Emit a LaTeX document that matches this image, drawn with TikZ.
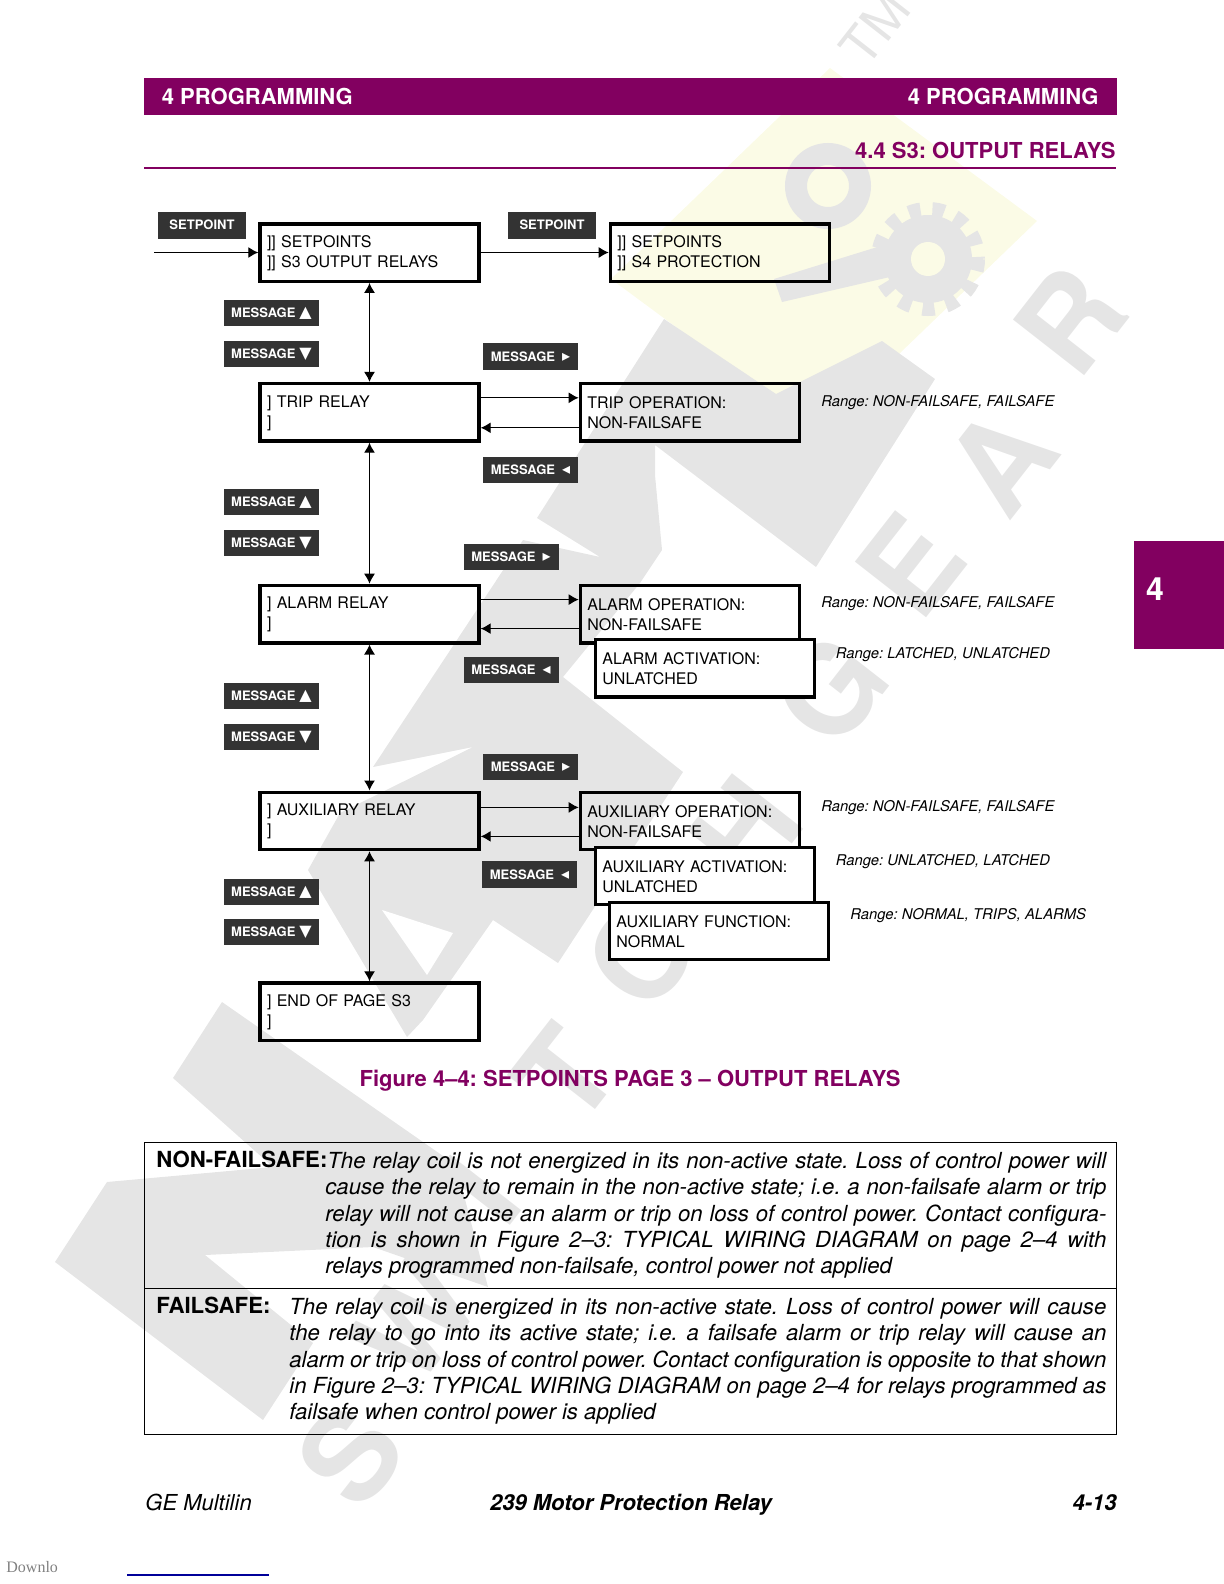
\documentclass[tikz,border=0pt]{standalone}
\usepackage{fontspec}
\setmainfont{TeX Gyre Heros}
\newfontfamily\symfont{DejaVu Sans}
\newfontfamily\downfont{Liberation Serif}
\usetikzlibrary{arrows.meta, positioning}

\definecolor{gepurple}{HTML}{820060}
\definecolor{keygray}{HTML}{333333}
\definecolor{wmgray}{HTML}{E5E5E5}
\definecolor{wmyellow}{HTML}{FBFBE6}

\newcommand{\keysym}{\symfont\fontsize{8}{8}\selectfont}
\newcommand{\msgup}{MESSAGE\hspace{2pt}{\keysym ▲}}
\newcommand{\msgdown}{MESSAGE\hspace{2pt}{\keysym ▼}}
\newcommand{\msgright}{MESSAGE\hspace{3.5pt}{\keysym ▸}}
\newcommand{\msgleft}{MESSAGE\hspace{3.5pt}{\keysym ◂}}

\begin{document}
\frenchspacing
\begin{tikzpicture}[
        x=0.5pt,
        y=-0.5pt,
        >={Latex[length=5pt,width=5.5pt]},
        block/.style={
            rectangle,
            draw,
            line width=1.7pt,
            text width=102.5pt,
            inner xsep=3.5pt,
            inner ysep=0pt,
            minimum height=28.7pt,
            align=left,
            execute at begin node={\rule{0pt}{6.5pt}},
            font=\fontsize{8}{10}\selectfont
        },
        topblock/.style={block, fill=white},
        keybox/.style={
            rectangle,
            fill=keygray,
            text=white,
            inner sep=0pt,
            minimum width=47.5pt,
            minimum height=13.2pt,
            font=\bfseries\fontsize{6.5}{7}\selectfont
        },
        setbox/.style={keybox, minimum width=44pt, minimum height=13.5pt},
        rangetext/.style={anchor=base west, inner sep=0pt, font=\itshape\fontsize{7.4}{9}\selectfont},
        wire/.style={line width=0.6pt},
        wmletter/.style={text=wmgray, rotate=52, inner sep=0pt, font=\bfseries\fontsize{62}{62}\selectfont},
        wmfill/.style={fill=wmgray, draw=none},
        bodytext/.style={anchor=north west, inner sep=0pt, align=justify, font=\itshape\fontsize{11.08}{13.13}\selectfont},
        boldlabel/.style={anchor=base west, inner sep=0pt, font=\bfseries\fontsize{11.1}{13}\selectfont}
    ]
    \useasboundingbox (0,0) rectangle (1224,1584);

    % Watermark
    \fill[wmyellow] (830,68) -- (1037,221) -- (818,432) -- (611,279) -- cycle;
    \fill[wmfill] (664,319) -- (776,394) -- (882,341) -- (935,379) -- (816,567) -- (655,445) -- (655,475) -- (662,550) -- (640,583) -- (563,677) -- (683,772) -- (558,963) -- (493,920) -- (423,1020) -- (407,1037) -- (308,870) -- (340,813) -- (473,747) -- (373,767) -- (523,540) -- (600,557) -- (537,518) -- cycle;
    \fill[white] (382,910) -- (453,933) -- (427,975) -- cycle;
    \fill[wmfill] (55,1262) -- (107,1182) -- (273,1167) -- (173,1078) -- (222,1002) -- (456,1165) -- (488,1287) -- (373,1247) -- (205,1255) -- (313,1343) -- (263,1420) -- cycle;
    \draw[wmgray, line width=11pt] (828,186) circle (32);
    \fill[wmfill] (774,279) -- (900,240) -- (920,270) -- (782,302) -- cycle;
    \fill[wmfill] (928,259) circle (44);
    \draw[wmgray, line width=7pt, dash pattern=on 6pt off 6pt] (928,259) circle (50);
    \fill[wmyellow] (928,259) circle (17);
    \node[wmletter] (wmr) at (1070,320) {R};
    \node[wmletter] (wma) at (1000,460) {A};
    \node[wmletter] (wme) at (910,565) {E};
    \node[wmletter] (wmg) at (830,690) {G};
    \node[wmletter] (wmh) at (745,830) {H};
    \node[wmletter] (wmc) at (640,955) {C};
    \node[wmletter] (wmt) at (565,1075) {T};
    \node[wmletter] (wmi) at (480,1190) {I};
    \node[wmletter] (wmw) at (415,1320) {W};
    \node[wmletter] (wms) at (350,1455) {S};
    \node[wmletter, font=\fontsize{26}{26}\selectfont] (wmtm) at (875,28) {TM};

    % Header
    \fill[gepurple] (144,78) rectangle (1117,115);
    \node[anchor=base west, inner sep=0pt, text=white, font=\bfseries\fontsize{11}{13}\selectfont] (headl) at (161.5,104.5) {4 PROGRAMMING};
    \node[anchor=base east, inner sep=0pt, text=white, font=\bfseries\fontsize{11}{13}\selectfont] (headr) at (1099,104.5) {4 PROGRAMMING};
    \node[anchor=base east, inner sep=0pt, text=gepurple, font=\bfseries\fontsize{11}{13}\selectfont] (section) at (1116,158) {4.4 S3: OUTPUT RELAYS};
    \draw[gepurple, line width=0.7pt] (144,168) -- (1116,168);
    \fill[gepurple] (1134,541) rectangle (1224,649);
    \node[anchor=base, inner sep=0pt, text=white, font=\bfseries\fontsize{16}{16}\selectfont] (tabnum) at (1155,600) {4};

    % Nodes
    \node[block] (setpoints) at (369.5,252.5) {]] SETPOINTS\\]] S3 OUTPUT RELAYS};
    \node[block, right=64pt of setpoints] (protection) {]] SETPOINTS\\]] S4 PROTECTION};
    \node[block, below=49.5pt of setpoints] (trip) {] TRIP RELAY\\]};
    \node[block, right=49pt of trip] (tripop) {TRIP OPERATION:\\NON-FAILSAFE};
    \node[block, below=70.5pt of trip] (alarm) {] ALARM RELAY\\]};
    \node[block, right=49pt of alarm] (alarmop) {ALARM OPERATION:\\NON-FAILSAFE};
    \node[topblock] (alarmact) at ([shift={(15,54)}]alarmop) {ALARM ACTIVATION:\\UNLATCHED};
    \node[block, below=73pt of alarm] (aux) {] AUXILIARY RELAY\\]};
    \node[block, right=49pt of aux] (auxop) {AUXILIARY OPERATION:\\NON-FAILSAFE};
    \node[topblock] (auxact) at ([shift={(15,55)}]auxop) {AUXILIARY ACTIVATION:\\UNLATCHED};
    \node[topblock] (auxfunc) at ([shift={(14,55)}]auxact) {AUXILIARY FUNCTION:\\NORMAL};
    \node[block, below=65pt of aux] (endpage) {] END OF PAGE S3\\]};

    % Keys
    \node[setbox] (setkeya) at (202,225) {SETPOINT};
    \node[setbox] (setkeyb) at (552,225) {SETPOINT};
    \node[keybox] (upa) at (271.5,313) {\msgup};
    \node[keybox, below=7pt of upa] (downa) {\msgdown};
    \node[keybox] (upb) at (271.5,502) {\msgup};
    \node[keybox, below=7pt of upb] (downb) {\msgdown};
    \node[keybox] (upc) at (271.5,696) {\msgup};
    \node[keybox, below=7pt of upc] (downc) {\msgdown};
    \node[keybox] (upd) at (271.5,892) {\msgup};
    \node[keybox, below=6.5pt of upd] (downd) {\msgdown};
    \node[keybox] (tripin) at (530.5,356.5) {\msgright};
    \node[keybox] (tripout) at (530.5,470) {\msgleft};
    \node[keybox] (alarmin) at (511,557) {\msgright};
    \node[keybox] (alarmout) at (511,670) {\msgleft};
    \node[keybox] (auxin) at (530.5,767) {\msgright};
    \node[keybox] (auxout) at (529.5,874.5) {\msgleft};

    % Ranges
    \node[rangetext] (rangetrip) at (821,406) {Range: NON-FAILSAFE, FAILSAFE};
    \node[rangetext] (rangealarm) at (821,607) {Range: NON-FAILSAFE, FAILSAFE};
    \node[rangetext] (rangeact) at (835.5,658) {Range: LATCHED, UNLATCHED};
    \node[rangetext] (rangeaux) at (821,811) {Range: NON-FAILSAFE, FAILSAFE};
    \node[rangetext] (rangeauxact) at (835.5,865) {Range: UNLATCHED, LATCHED};
    \node[rangetext] (rangefunc) at (850,919) {Range: NORMAL, TRIPS, ALARMS};

    % Arrows
    \coordinate (entry) at (154,252.5);
    \draw[->, wire] (entry) -- (setpoints);
    \draw[->, wire] (setpoints) -- (protection);
    \draw[<->, wire] (setpoints) -- (trip);
    \draw[<->, wire] (trip) -- (alarm);
    \draw[<->, wire] (alarm) -- (aux);
    \draw[<->, wire] (aux) -- (endpage);
    \draw[->, wire] ([yshift=7.25pt]trip.east) -- ([yshift=7.25pt]tripop.west);
    \draw[->, wire] ([yshift=-7.75pt]tripop.west) -- ([yshift=-7.75pt]trip.east);
    \draw[->, wire] ([yshift=7.25pt]alarm.east) -- ([yshift=7.25pt]alarmop.west);
    \draw[->, wire] ([yshift=-7.25pt]alarmop.west) -- ([yshift=-7.25pt]alarm.east);
    \draw[->, wire] ([yshift=6.75pt]aux.east) -- ([yshift=6.75pt]auxop.west);
    \draw[->, wire] ([yshift=-7.75pt]auxop.west) -- ([yshift=-7.75pt]aux.east);

    % Caption and notes
    \node[anchor=base, inner sep=0pt, text=gepurple, font=\bfseries\fontsize{11}{13}\selectfont] (caption) at (630,1086) {Figure 4--4: SETPOINTS PAGE 3 -- OUTPUT RELAYS};
    \draw[line width=0.5pt] (144,1142) rectangle (1116,1288);
    \draw[line width=0.5pt] (144,1288) rectangle (1116,1434);
    \node[boldlabel] (nflabel) at (156,1167.5) {NON-FAILSAFE:};
    \node[bodytext, text width=390.5pt] (nftext) at (325,1152) {\hspace*{1pt}The relay coil is not energized in its non-active state. Loss of control power will\linebreak
        cause the relay to remain in the non-active state; i.e. a non-failsafe alarm or trip\linebreak
        relay will not cause an alarm or trip on loss of control power. Contact configura-\linebreak
        tion is shown in Figure 2--3: TYPICAL WIRING DIAGRAM on page 2--4 with\linebreak
        relays programmed non-failsafe, control power not applied};
    \node[boldlabel] (fslabel) at (156,1313) {FAILSAFE:};
    \node[bodytext, text width=408.5pt] (fstext) at (289,1298) {The relay coil is energized in its non-active state. Loss of control power will cause\linebreak
        the relay to go into its active state; i.e. a failsafe alarm or trip relay will cause an\linebreak
        alarm or trip on loss of control power. Contact configuration is opposite to that shown\linebreak
        in Figure 2--3: TYPICAL WIRING DIAGRAM on page 2--4 for relays programmed as\linebreak
        failsafe when control power is applied};

    % Footer
    \node[anchor=base west, inner sep=0pt, font=\itshape\fontsize{11}{13}\selectfont] (footl) at (145,1510) {GE Multilin};
    \node[anchor=base, inner sep=0pt, font=\bfseries\itshape\fontsize{11}{13}\selectfont] (footc) at (631,1510) {239 Motor Protection Relay};
    \node[anchor=base east, inner sep=0pt, font=\bfseries\itshape\fontsize{11}{13}\selectfont] (footr) at (1117,1510) {4-13};
    \node[anchor=base west, inner sep=0pt, text=black!50, font=\downfont\fontsize{8}{9}\selectfont] (downlo) at (6,1572) {Downlo};
    \draw[blue!60!black, line width=0.6pt] (127,1575) -- (269,1575);

    \end{tikzpicture}
\end{document}
